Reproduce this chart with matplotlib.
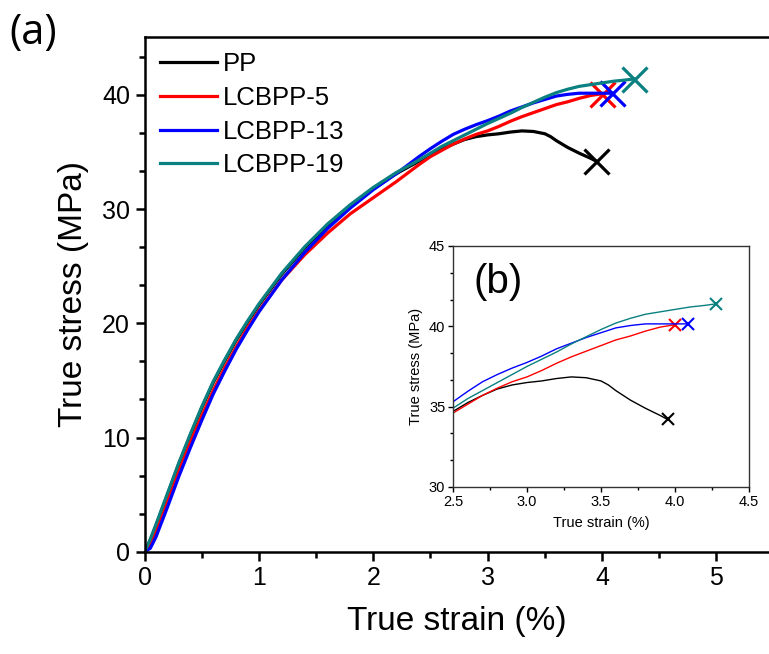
import matplotlib
matplotlib.use("Agg")
import matplotlib.pyplot as plt
from matplotlib.ticker import MultipleLocator, AutoMinorLocator

plt.rcParams['font.family'] = ['Liberation Sans', 'DejaVu Sans']

# ---- data ----
labels = ["PP", "LCBPP-5", "LCBPP-13", "LCBPP-19"]
colors = ["black", "#ff0000", "#0000ff", "#0a8080"]

pp_strain = [0, 0.05, 0.1, 0.2, 0.3, 0.4, 0.5, 0.6, 0.7, 0.8, 0.9, 1.0, 1.2, 1.4, 1.6, 1.8,
             2.0, 2.2, 2.4, 2.5, 2.6, 2.7, 2.8, 2.9, 3.0, 3.1, 3.2, 3.3, 3.4, 3.5, 3.55,
             3.6, 3.7, 3.8, 3.9, 3.95]
pp_stress = [0, 1.0, 2.3, 5.0, 7.7, 10.2, 12.6, 14.8, 16.7, 18.5, 20.1, 21.6, 24.3, 26.6, 28.6, 30.3,
             31.8, 33.1, 34.2, 34.7, 35.25, 35.7, 36.1, 36.35, 36.5, 36.6, 36.75, 36.85, 36.8, 36.6, 36.35,
             36.0, 35.4, 34.9, 34.45, 34.2]

lcb5_strain = [0, 0.05, 0.1, 0.2, 0.3, 0.4, 0.5, 0.6, 0.7, 0.8, 0.9, 1.0, 1.2, 1.4, 1.6, 1.8,
               2.0, 2.2, 2.4, 2.5, 2.6, 2.7, 2.8, 2.9, 3.0, 3.1, 3.2, 3.3, 3.4, 3.5, 3.6,
               3.7, 3.8, 3.9, 4.0]
lcb5_stress = [0, 0.6, 1.8, 4.4, 7.1, 9.6, 11.9, 14.1, 16.1, 17.9, 19.6, 21.1, 23.8, 26.0, 27.9, 29.6,
               31.0, 32.4, 33.9, 34.6, 35.15, 35.7, 36.15, 36.55, 36.85, 37.25, 37.7, 38.1, 38.45, 38.8, 39.15,
               39.4, 39.7, 39.95, 40.1]

lcb13_strain = [0, 0.05, 0.1, 0.2, 0.3, 0.4, 0.5, 0.6, 0.7, 0.8, 0.9, 1.0, 1.2, 1.4, 1.6, 1.8,
                2.0, 2.2, 2.4, 2.5, 2.6, 2.7, 2.8, 2.9, 3.0, 3.1, 3.2, 3.3, 3.4, 3.5, 3.6,
                3.7, 3.8, 3.9, 4.0, 4.09]
lcb13_stress = [0, 0.3, 1.3, 3.9, 6.6, 9.1, 11.5, 13.8, 15.8, 17.7, 19.4, 21.0, 23.8, 26.2, 28.3, 30.1,
                31.7, 33.1, 34.6, 35.3, 35.95, 36.55, 37.0, 37.4, 37.75, 38.15, 38.6, 38.95, 39.3, 39.6, 39.9,
                40.05, 40.15, 40.15, 40.15, 40.15]

lcb19_strain = [0, 0.05, 0.1, 0.2, 0.3, 0.4, 0.5, 0.6, 0.7, 0.8, 0.9, 1.0, 1.2, 1.4, 1.6, 1.8,
                2.0, 2.2, 2.4, 2.5, 2.6, 2.7, 2.8, 2.9, 3.0, 3.1, 3.2, 3.3, 3.4, 3.5, 3.6,
                3.7, 3.8, 3.9, 4.0, 4.1, 4.2, 4.28]
lcb19_stress = [0, 1.1, 2.4, 5.1, 7.8, 10.3, 12.7, 14.9, 16.8, 18.6, 20.2, 21.7, 24.4, 26.7, 28.7, 30.4,
                31.9, 33.2, 34.3, 34.9, 35.5, 36.0, 36.5, 37.0, 37.5, 37.95, 38.4, 38.9, 39.35, 39.8, 40.2,
                40.5, 40.75, 40.9, 41.05, 41.2, 41.3, 41.4]

strains = [pp_strain, lcb5_strain, lcb13_strain, lcb19_strain]
stresses = [pp_stress, lcb5_stress, lcb13_stress, lcb19_stress]

fig = plt.figure(figsize=(7.69, 6.54), dpi=100)

# main axes
ax = fig.add_axes([0.188, 0.1564, 0.812, 0.7875])
for x, y, c, lab in zip(strains, stresses, colors, labels):
    ax.plot(x, y, color=c, lw=2.3, label=lab)
    ax.plot(x[-1], y[-1], marker="x", color=c, ms=18, mew=2.3)

ax.set_xlim(0, 5.46)
ax.set_ylim(0, 45.1)
ax.xaxis.set_major_locator(MultipleLocator(1))
ax.xaxis.set_minor_locator(AutoMinorLocator(2))
ax.yaxis.set_major_locator(MultipleLocator(10))
ax.yaxis.set_minor_locator(AutoMinorLocator(3))
ax.spines['right'].set_visible(False)
for s in ['left', 'bottom', 'top']:
    ax.spines[s].set_linewidth(1.8)
ax.tick_params(which='major', direction='out', length=6.5, width=1.8, labelsize=18, pad=4)
ax.tick_params(which='minor', direction='out', length=4, width=1.8)
ax.tick_params(top=False, right=False, which='both')
ax.set_xlabel("True strain (%)", fontsize=24, labelpad=11)
ax.set_ylabel("True stress (MPa)", fontsize=24, labelpad=9)

ax.legend(loc='upper left', frameon=False, fontsize=18.5, handlelength=2.2,
          handletextpad=0.25, labelspacing=0.38, borderaxespad=0.2,
          bbox_to_anchor=(0.0, 1.0))

fig.text(0.012, 0.982, "(a)", fontsize=30, family=['Open Sans', 'DejaVu Sans'], va='top')

# inset
axi = fig.add_axes([0.589, 0.2554, 0.385, 0.3685])
for x, y, c in zip(strains, stresses, colors):
    axi.plot(x, y, color=c, lw=1.0)
    axi.plot(x[-1], y[-1], marker="x", color=c, ms=9, mew=1.5)
axi.set_xlim(2.5, 4.5)
axi.set_ylim(30, 45)
axi.xaxis.set_major_locator(MultipleLocator(0.5))
axi.xaxis.set_minor_locator(AutoMinorLocator(2))
axi.yaxis.set_major_locator(MultipleLocator(5))
axi.yaxis.set_minor_locator(AutoMinorLocator(3))
axi.xaxis.set_major_formatter(matplotlib.ticker.FormatStrFormatter('%.1f'))
for s in axi.spines.values():
    s.set_linewidth(1.0)
    s.set_color('#333333')
axi.tick_params(which='major', direction='out', length=3.5, width=1.0, labelsize=10.5, pad=2)
axi.tick_params(which='minor', direction='out', length=2, width=1.0)
axi.set_xlabel("True strain (%)", fontsize=10.5, labelpad=5)
axi.set_ylabel("True stress (MPa)", fontsize=10.5, labelpad=4)
axi.text(0.07, 0.93, "(b)", transform=axi.transAxes, fontsize=29, va='top')

fig.savefig("out.png", dpi=100)
